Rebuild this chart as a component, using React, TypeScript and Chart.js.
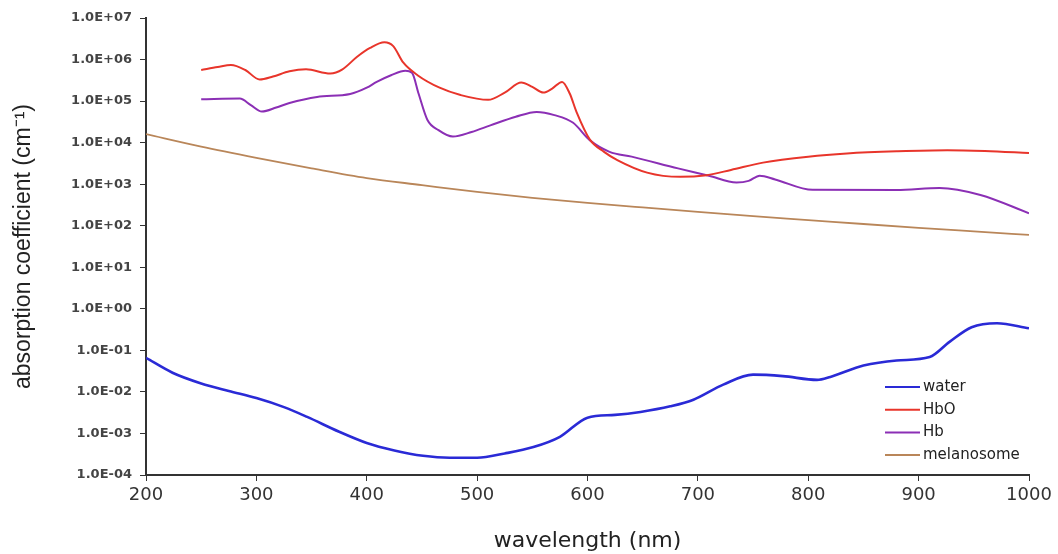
import React, { useEffect, useRef } from "react";
import { Chart, registerables } from "chart.js";

Chart.register(...registerables);

// ---- data ----
const waterWavelengths = [200, 224, 250, 275, 300, 325, 346, 375, 400, 425, 451, 475, 500, 525, 551, 575, 600, 625, 648, 675, 696, 723, 750, 777, 808, 820, 850, 880, 910, 928, 948, 971, 1000];
const waterValues = [6.6e-2, 2.9e-2, 1.6e-2, 1.05e-2, 7.1e-3, 4.3e-3, 2.5e-3, 1.1e-3, 5.9e-4, 3.9e-4, 2.9e-4, 2.6e-4, 2.6e-4, 3.3e-4, 4.7e-4, 8.3e-4, 2.4e-3, 2.8e-3, 3.3e-3, 4.5e-3, 6.5e-3, 1.5e-2, 2.6e-2, 2.4e-2, 1.95e-2, 2.3e-2, 4.3e-2, 5.7e-2, 6.9e-2, 1.6e-1, 3.6e-1, 4.5e-1, 3.4e-1];

const hboWavelengths = [250, 265, 277, 290, 303, 315, 330, 345, 367, 378, 391, 403, 416, 424, 433, 446, 466, 485, 510, 525, 540, 550, 560, 568, 577, 584, 590, 602, 615, 627, 654, 684, 708, 730, 759, 800, 835, 880, 926, 960, 1000];
const hboValues = [5.6e5, 6.6e5, 7.4e5, 5.6e5, 3.3e5, 3.9e5, 5.2e5, 5.8e5, 4.6e5, 5.8e5, 1.15e6, 1.9e6, 2.6e6, 2.1e6, 8.5e5, 4.2e5, 2.1e5, 1.4e5, 1.07e5, 1.6e5, 2.8e5, 2.2e5, 1.6e5, 2.0e5, 2.9e5, 1.5e5, 5.5e4, 1.2e4, 6.0e3, 3.8e3, 1.9e3, 1.5e3, 1.65e3, 2.2e3, 3.3e3, 4.6e3, 5.5e3, 6.2e3, 6.6e3, 6.3e3, 5.6e3];

const hbWavelengths = [250, 285, 295, 305, 318, 330, 355, 385, 400, 409, 422, 435, 441, 447, 455, 465, 478, 495, 512, 535, 554, 570, 587, 602, 620, 640, 682, 710, 735, 746, 756, 770, 804, 880, 919, 956, 1000];
const hbValues = [1.1e5, 1.15e5, 8.0e4, 5.6e4, 7.0e4, 9.0e4, 1.26e5, 1.48e5, 2.1e5, 2.9e5, 4.2e5, 5.4e5, 4.8e5, 1.5e5, 3.5e4, 2.0e4, 1.4e4, 1.8e4, 2.6e4, 4.2e4, 5.5e4, 4.6e4, 3.0e4, 1.15e4, 6.0e3, 4.6e3, 2.4e3, 1.6e3, 1.1e3, 1.2e3, 1.6e3, 1.3e3, 7.3e2, 7.2e2, 8.1e2, 5.5e2, 2.0e2];

const melanosomeWavelengths = [200, 250, 300, 350, 400, 450, 500, 550, 600, 650, 700, 750, 800, 850, 900, 950, 1000];
const melanosomeValues = [1.6e4, 8.0e3, 4.3e3, 2.4e3, 1.4e3, 9.5e2, 6.5e2, 4.7e2, 3.55e2, 2.75e2, 2.15e2, 1.7e2, 1.37e2, 1.1e2, 8.9e1, 7.3e1, 6.0e1];

const seriesNames = ["water", "HbO", "Hb", "melanosome"];
const seriesColors = ["#2a2ad6", "#e8352b", "#8b2fb5", "#b98659"];
const seriesWidths = [2.6, 2, 2, 1.8];

const xTickValues = [200, 300, 400, 500, 600, 700, 800, 900, 1000];
const xTickLabels = ["200", "300", "400", "500", "600", "700", "800", "900", "1000"];
const yTickValues = [1e-4, 1e-3, 1e-2, 1e-1, 1e0, 1e1, 1e2, 1e3, 1e4, 1e5, 1e6, 1e7];
const yTickLabels = ["1.0E-04", "1.0E-03", "1.0E-02", "1.0E-01", "1.0E+00", "1.0E+01", "1.0E+02", "1.0E+03", "1.0E+04", "1.0E+05", "1.0E+06", "1.0E+07"];

function toPoints(xs: number[], ys: number[]) {
  return xs.map((x, i) => ({ x, y: ys[i] }));
}

const insideLegend = {
  id: "insideLegend",
  afterDraw(chart: any) {
    const { ctx, chartArea } = chart;
    const lineStart = chartArea.right - 144;
    const lineEnd = chartArea.right - 109;
    const textX = chartArea.right - 106;
    const firstY = chartArea.bottom - 88;
    const step = 22.7;
    ctx.save();
    ctx.font = "15px 'DejaVu Sans'";
    ctx.textBaseline = "middle";
    ctx.textAlign = "left";
    chart.data.datasets.forEach((ds: any, i: number) => {
      const y = firstY + i * step;
      ctx.strokeStyle = ds.borderColor;
      ctx.lineWidth = 2;
      ctx.beginPath();
      ctx.moveTo(lineStart, y);
      ctx.lineTo(lineEnd, y);
      ctx.stroke();
      ctx.fillStyle = "#222";
      ctx.fillText(ds.label, textX, y);
    });
    ctx.restore();
  },
};

export default function App() {
  const canvasRef = useRef<HTMLCanvasElement | null>(null);

  useEffect(() => {
    if (!canvasRef.current) return;
    const seriesX = [waterWavelengths, hboWavelengths, hbWavelengths, melanosomeWavelengths];
    const seriesY = [waterValues, hboValues, hbValues, melanosomeValues];
    const chart = new Chart(canvasRef.current, {
      type: "line",
      data: {
        datasets: seriesNames.map((name, i) => ({
          label: name,
          data: toPoints(seriesX[i], seriesY[i]),
          borderColor: seriesColors[i],
          backgroundColor: seriesColors[i],
          borderWidth: seriesWidths[i],
          pointRadius: 0,
          fill: false,
          cubicInterpolationMode: "monotone" as const,
        })),
      },
      options: {
        animation: false,
        responsive: false,
        devicePixelRatio: 1,
        layout: { padding: { top: 18, right: 29, left: 0, bottom: 0 } },
        plugins: {
          legend: { display: false },
          tooltip: { enabled: false },
        },
        scales: {
          x: {
            type: "linear",
            min: 200,
            max: 1000,
            afterBuildTicks: (scale: any) => {
              scale.ticks = xTickValues.map((v) => ({ value: v }));
            },
            afterFit: (scale: any) => {
              scale.height = 79;
            },
            border: { display: true, color: "#333", width: 2 },
            grid: { drawOnChartArea: false, drawTicks: true, tickLength: 6, color: "#333", lineWidth: 1 },
            ticks: {
              autoSkip: false,
              maxRotation: 0,
              padding: 4,
              color: "#333",
              font: { family: "'DejaVu Sans'", size: 18 },
              callback: (_v: any, i: number) => xTickLabels[i],
            },
            title: {
              display: true,
              text: "wavelength (nm)",
              color: "#222",
              font: { family: "'DejaVu Sans'", size: 22 },
              padding: { top: 0, bottom: 0 },
            },
          },
          y: {
            type: "logarithmic",
            min: 1e-4,
            max: 1e7,
            afterBuildTicks: (scale: any) => {
              scale.ticks = yTickValues.map((v) => ({ value: v }));
            },
            afterFit: (scale: any) => {
              scale.width = 146;
            },
            border: { display: true, color: "#333", width: 2 },
            grid: { drawOnChartArea: false, drawTicks: true, tickLength: 6, color: "#333", lineWidth: 1 },
            ticks: {
              autoSkip: false,
              padding: 8,
              color: "#444",
              font: { family: "'DejaVu Sans'", size: 13, weight: "bold" },
              callback: (_v: any, i: number) => yTickLabels[i],
            },
            title: {
              display: true,
              text: "absorption coefficient (cm⁻¹)",
              color: "#222",
              font: { family: "'Liberation Sans'", size: 23 },
              padding: { top: 10, bottom: 0 },
            },
          },
        },
      },
      plugins: [insideLegend],
    });
    return () => chart.destroy();
  }, []);

  return (
    <div style={{ position: "absolute", left: 0, top: 0, width: 1058, height: 554, background: "#fff" }}>
      <canvas ref={canvasRef} width={1058} height={554} />
    </div>
  );
}
